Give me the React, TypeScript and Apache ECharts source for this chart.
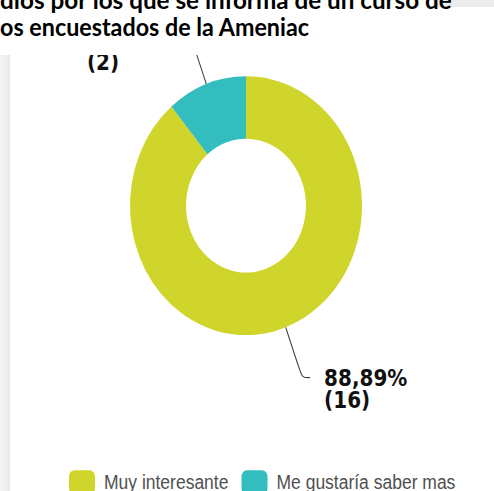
import React, { useEffect, useRef } from "react";
import * as echarts from "echarts";

const titleLines = [
  "dios por los que se informa de un curso de",
  "os encuestados de la Ameniac",
];
const categories = ["Muy interesante", "Me gustaría saber mas"];
const values = [16, 2];
const colors = ["#cfd52a", "#33bdbe"];

const TITLE_FS = 22;
const TITLE_FONT = `bold ${TITLE_FS}px Lato`;
const titleWidths = [419, 294];
const titleFix = [1.08, 1.054];
const titleBaselines = [9, 35.7];
const TITLE_SY = 1.12;

function measure(text: string, font: string) {
  const ctx = document.createElement("canvas").getContext("2d")!;
  ctx.font = font;
  return ctx.measureText(text).width;
}

export default function App() {
  const t0Ref = useRef<HTMLDivElement>(null);
  const t1Ref = useRef<HTMLDivElement>(null);
  const chartRef = useRef<HTMLDivElement>(null);

  useEffect(() => {
    const insts: echarts.ECharts[] = [];
    [t0Ref, t1Ref].forEach((ref, i) => {
      const el = ref.current!;
      const w = measure(titleLines[i], TITLE_FONT);
      const sx = (titleWidths[i] / w) * titleFix[i];
      el.style.transform = `scale(${sx}, ${TITLE_SY})`;
      el.style.transformOrigin = "0px 30px";
      el.style.top = `${titleBaselines[i] - 30}px`;
      const inst = echarts.init(el, null, { renderer: "svg" });
      inst.setOption({
        animation: false,
        graphic: [
          {
            type: "text",
            style: {
              text: titleLines[i],
              x: 1,
              y: 30 - 0.387 * TITLE_FS,
              fill: "#000",
              font: TITLE_FONT,
              verticalAlign: "middle",
            },
          },
        ],
      });
      insts.push(inst);
    });

    const c = echarts.init(chartRef.current!, null, { renderer: "svg" });
    c.setOption({
      animation: false,
      graphic: [
        {
          type: "rect",
          shape: { x: 0, y: 0, width: 10, height: 391 },
          style: {
            fill: new echarts.graphic.LinearGradient(0, 0, 1, 0, [
              { offset: 0, color: "#f5f5f5" },
              { offset: 1, color: "#e8e8e8" },
            ]),
          },
        },
      ],
      legend: {
        data: categories,
        left: 69,
        top: 372,
        padding: 0,
        itemWidth: 26,
        itemHeight: 22,
        itemGap: 13,
        icon: "roundRect",
        selectedMode: false,
        textStyle: {
          fontFamily: "Liberation Sans",
          fontSize: 17.5,
          color: "#505050",
          padding: [0, 0, 4, 4],
        },
      },
      series: [
        {
          type: "pie",
          radius: [60, 116],
          center: [246, 135],
          startAngle: 90,
          clockwise: true,
          avoidLabelOverlap: false,
          silent: true,
          label: {
            show: true,
            position: "outside",
            distanceToLabelLine: 14,
            padding: [20, 0, 0, 0],
            formatter: (p: any) =>
              `{a|${p.percent.toFixed(2).replace(".", ",")}%}\n{a|(${p.value})}`,
            rich: {
              a: {
                fontFamily: "DejaVu Sans",
                fontWeight: "bold",
                fontSize: 20,
                lineHeight: 20,
                color: "#111",
                width: 83,
                align: "left",
              },
            },
          },
          labelLine: {
            show: true,
            length: 48,
            length2: 8,
            smooth: true,
            lineStyle: { color: "#3a3a3a", width: 1 },
          },
          data: categories.map((n, i) => ({
            name: n,
            value: values[i],
            itemStyle: { color: colors[i] },
            ...(i === 1 ? { labelLine: { length: 42 } } : {}),
          })),
        },
      ],
    });
    insts.push(c);

    return () => {
      insts.forEach((x) => x.dispose());
    };
  }, []);

  return (
    <div
      style={{
        position: "fixed",
        left: 0,
        top: 0,
        width: 494,
        height: 491,
        overflow: "hidden",
        background: "#fff",
      }}
    >
      <div
        style={{
          position: "absolute",
          left: 0,
          top: 0,
          width: 494,
          height: 55,
          overflow: "hidden",
        }}
      >
        <div
          style={{
            position: "absolute",
            left: 433,
            top: 0,
            width: 61,
            height: 7,
            background: "#ececec",
          }}
        />
        <div
          ref={t0Ref}
          style={{ position: "absolute", left: -1, width: 480, height: 44 }}
        />
        <div
          ref={t1Ref}
          style={{ position: "absolute", left: -1, width: 480, height: 44 }}
        />
      </div>
      <div
        style={{
          position: "absolute",
          left: 0,
          top: 55,
          width: 494,
          height: 436,
          overflow: "hidden",
        }}
      >
        <div
          ref={chartRef}
          style={{
            width: 494,
            height: 391,
            transform: "scaleY(1.116)",
            transformOrigin: "0 0",
          }}
        />
      </div>
    </div>
  );
}
